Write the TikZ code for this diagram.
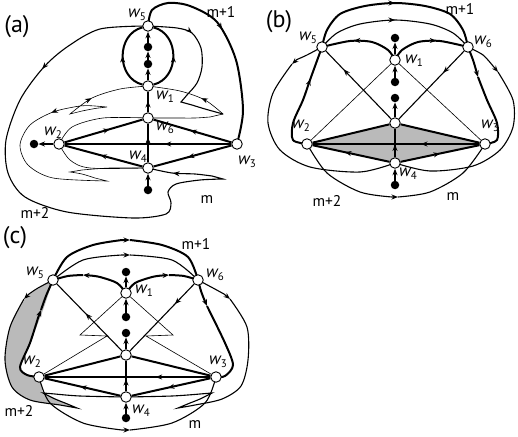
\documentclass[tikz,border=0pt]{standalone}
\usepackage{fontspec}
\setmainfont{PT Sans}
\usetikzlibrary{arrows.meta,decorations.markings}
\pgfdeclarelayer{bg}
\pgfsetlayers{bg,main}
\newcommand{\wl}[1]{{\fontsize{17}{17}\selectfont\itshape w}\kern0.2pt\raisebox{-0.6ex}{\fontsize{11}{11}\selectfont #1}}
\begin{document}
\begin{tikzpicture}[x=1pt,y=-1pt,
  >={Stealth[length=6.5pt,width=5pt]},
  wn/.style={circle,draw,fill=white,line width=0.9pt,inner sep=0pt,minimum size=10.5pt},
  bd/.style={circle,fill=black,inner sep=0pt,minimum size=8.5pt},
  thk/.style={line width=2pt},
  med/.style={line width=1.1pt},
  thn/.style={line width=0.6pt},
  ar/.style={postaction={decorate,decoration={markings,mark=at position #1 with {\arrow{>}}}}},
  ra/.style={postaction={decorate,decoration={markings,mark=at position #1 with {\arrowreversed{>}}}}},
  lab/.style={inner sep=0pt},
  big/.style={font=\fontsize{24}{24}\selectfont,inner sep=0pt},
  ml/.style={font=\fontsize{15.5}{15.5}\selectfont,inner sep=0pt},
  gfill/.style={fill=black!27},
  line join=round, line cap=round]
\useasboundingbox (0,0) rectangle (518,436);

% ---------------- (a) nodes
\node[wn] (a5) at (148,26) {};
\node[bd] (ad1) at (148,47) {};
\node[bd] (ad2) at (148,64) {};
\node[wn] (a1) at (148,86) {};
\node[wn] (a6) at (148,118) {};
\node[wn] (a2) at (59,144) {};
\node[bd] (adL) at (34,144) {};
\node[wn] (a3) at (237,144) {};
\node[wn] (a4) at (148,168) {};
\node[bd] (adB) at (148,190) {};

% ---------------- (b) nodes
\node[wn] (b5) at (322,47) {};
\node[wn] (b6) at (468,47) {};
\node[wn] (b1) at (395,60) {};
\node[bd] (bdT) at (395,38) {};
\node[bd] (bdM1) at (395,82) {};
\node[bd] (bdM2) at (395,98) {};
\node[wn] (bc) at (395,123) {};
\node[wn] (b2) at (307,144) {};
\node[wn] (b3) at (485,144) {};
\node[wn] (b4) at (395,163) {};
\node[bd] (bdB) at (395,185) {};

% ---------------- (c) nodes
\node[wn] (c5) at (53,280) {};
\node[wn] (c6) at (198,280) {};
\node[wn] (c1) at (126,293) {};
\node[bd] (cdT) at (126,272) {};
\node[bd] (cdM1) at (126,317) {};
\node[bd] (cdM2) at (126,333) {};
\node[wn] (cc) at (126,355) {};
\node[wn] (c2) at (39,377) {};
\node[wn] (c3) at (216,377) {};
\node[wn] (c4) at (126,397) {};
\node[bd] (cdB) at (126,418) {};

% ---------------- labels
\node[big] (ta) at (17,27) {(a)};
\node[big] (tb) at (279,22) {(b)};
\node[big] (tc) at (15,238) {(c)};

\node[lab] (la5) at (137,15) {\wl{5}};
\node[lab] (la1) at (165,97) {\wl{1}};
\node[lab] (la6) at (165,128) {\wl{6}};
\node[lab] (la2) at (53,133) {\wl{2}};
\node[lab] (la4) at (138,157) {\wl{4}};
\node[lab] (la3) at (247,162) {\wl{3}};
\node[ml] (ma1) at (221,12) {m+1};
\node[ml] (ma0) at (207,200) {m};
\node[ml] (ma2) at (35,213) {m+2};

\node[lab] (lb5) at (308,38) {\wl{5}};
\node[lab] (lb6) at (483,42) {\wl{6}};
\node[lab] (lb1) at (414,61) {\wl{1}};
\node[lab] (lb2) at (301,126) {\wl{2}};
\node[lab] (lb3) at (490,126) {\wl{3}};
\node[lab] (lb4) at (408,174) {\wl{4}};
\node[ml] (mb1) at (460,9) {m+1};
\node[ml] (mb2) at (327,201) {m+2};
\node[ml] (mb0) at (453,197) {m};

\node[lab] (lc5) at (35,273) {\wl{5}};
\node[lab] (lc6) at (215,275) {\wl{6}};
\node[lab] (lc1) at (144,291) {\wl{1}};
\node[lab] (lc2) at (32,362) {\wl{2}};
\node[lab] (lc3) at (218,362) {\wl{3}};
\node[lab] (lc4) at (141,411) {\wl{4}};
\node[ml] (mc1) at (196,244) {m+1};
\node[ml] (mc2) at (19,411) {m+2};
\node[ml] (mc0) at (195,425) {m};

\begin{pgfonlayer}{bg}
% ================= (a)
\draw[thk,ar=0.5] (a1) .. controls (116,78) and (116,34) .. (a5);
\draw[thk,ar=0.5] (a1) .. controls (180,78) and (180,34) .. (a5);
\draw[med,->] (a1) -- (ad2);
\draw[med,->] (ad2) -- (ad1);
\draw[med,->] (ad1) -- (a5);
\draw[thk,ar=0.55] (a6) -- (a1);
\draw[med,ar=0.65] (a4) -- (a6);
\draw[med,->] (adB) -- (a4);
\draw[med,->] (a2) -- (adL);
\draw[thk,ar=0.58] (a2) -- (a6);
\draw[thk,ar=0.53] (a3) -- (a6);
\draw[thk,ar=0.56] (a3) -- (a4);
\draw[thk,ar=0.54] (a4) -- (a2);
\draw[med,ar=0.4] (a3) -- (a2);
% m+1
\draw[thk,ar=0.45] plot[smooth] coordinates {(a5) (152,10) (168,3) (190,6) (217,22) (236,60) (243,110) (a3)};
% m+2 outer
\draw[med,ar=0.21,ar=0.955] plot[smooth] coordinates {(a5) (100,29) (67,47) (43,68) (20,100) (6,140) (8,173) (25,197) (67,212) (133,218) (166,214) (171,203) (168,192) (176,184) (200,180) (223,179)}
  -- plot[smooth] coordinates {(212,176) (195,174) (172,173) (a4)};
% left folded curve
\draw[thn,ra=0.13,ar=0.40] plot[smooth] coordinates {(a1) (120,89) (92,98) (70,114)}
  -- plot[smooth] coordinates {(82,111) (95,108.5) (107,107)}
  -- plot[smooth] coordinates {(95,106) (80,106) (53,112) (30,125) (20,145) (28,165) (53,178) (107,181)}
  -- plot[smooth] coordinates {(95,178) (82,174) (70,172)}
  -- plot[smooth] coordinates {(82,170) (110,168) (a4)};
% lens around w2
\draw[thn] plot[smooth] coordinates {(a6) (103,118) (72,127) (a2)};
\draw[thn] plot[smooth] coordinates {(a2) (70,160) (90,168) (a4)};
% right lens and cusp curve
\draw[thn,ra=0.35] plot[smooth] coordinates {(a1) (180,91) (205,100) (223,114)}
  -- plot[smooth] coordinates {(210,117) (195,118) (175,118) (a6)};
\draw[med,ar=0.27] plot[smooth] coordinates {(a5) (177,28) (192,33) (201,48) (202,67) (197,83) (187,95) (181,102)}
  -- plot[smooth] coordinates {(192,105) (205,109) (223,114)};

% ================= (b)
\fill[gfill] (b2.center) -- (bc.center) -- (b3.center) -- (b4.center) -- cycle;
\draw[thk] (b2) -- (bc);
\draw[thk] (bc) -- (b3);
\draw[thk,ar=0.58] (b4) -- (b2);
\draw[thk,ar=0.5] (b4) -- (b3);
\draw[med,ar=0.35] (b3) -- (b2);
\draw[med,ar=0.45] (b4) -- (bc);
\draw[med,->] (bdB) -- (b4);
\draw[thk,->] (bc) -- (bdM2);
\draw[thk,->] (bdM1) -- (b1);
\draw[med,->] (b1) -- (bdT);
\draw[thn] (b2) -- (b1);
\draw[thn] (b1) -- (b3);
\draw[med,ar=0.73] (bc) -- (b5);
\draw[med,ar=0.32] (b6) -- (bc);
\draw[thk,ar=0.6] plot[smooth] coordinates {(b1) (388,50) (372,42) (350,41) (b5)};
\draw[thk,ar=0.6] plot[smooth] coordinates {(b1) (402,50) (418,42) (440,41) (b6)};
\draw[med,ar=0.5] plot[smooth] coordinates {(b5) (337,33) (360,24) (395,20) (430,24) (453,33) (b6)};
\draw[thk,ar=0.5] plot[smooth] coordinates {(b5) (327,30) (340,14) (365,6) (395,3) (425,6) (450,14) (463,30) (b6)};
\draw[thk,ar=0.7] plot[smooth] coordinates {(b2) (293,140) (293,123) (303,100) (310,80) (b5)};
% w6 -> w3 (arrow split)
\draw[thk,->] plot[smooth] coordinates {(b6) (473,60) (476,70)} -- (478,77);
\draw[thk] plot[smooth] coordinates {(478,77) (487,100) (497,123) (497,140) (b3)};
% outer left / right
\draw[med,->] plot[smooth] coordinates {(b5) (307,55) (297,59.5)} -- (292,64);
\draw[med] plot[smooth] coordinates {(292,64) (273,93) (268,123) (280,150) (310,167) (360,172) (b4)};
\draw[med,->] plot[smooth] coordinates {(b6) (483,55) (493,66)} -- (498,72);
\draw[med] plot[smooth] coordinates {(498,72) (513,100) (513,127) (500,150) (473,166) (430,171) (b4)};
% bottom arc
\draw[med,->] plot[smooth] coordinates {(b2) (327,173) (360,192) (392,197)} -- (398,197);
\draw[med] plot[smooth] coordinates {(398,197) (430,192) (463,173) (b3)};

% ================= (c)
\fill[gfill] plot[smooth] coordinates {(c5) (27,297) (10,327) (5,360) (12,387) (30,400) (60,405) (77,408)}
  -- (43,393) -- (c2.center)
  -- plot[smooth] coordinates {(c2) (27,375) (20,367) (30,343) (43,310) (c5)} -- cycle;
\draw[med,->] plot[smooth] coordinates {(c5) (38,288) (29,294)} -- (24,299);
\draw[med] plot[smooth] coordinates {(24,299) (10,327) (5,360) (12,387) (30,400) (60,405) (77,408)}
  -- plot[smooth] coordinates {(65,403) (55,399) (43,393)}
  -- plot[smooth] coordinates {(55,394) (80,396) (c4)};
\draw[med,->] plot[smooth] coordinates {(c6) (213,288) (224,294)} -- (230,299);
\draw[med] plot[smooth] coordinates {(230,299) (247,327) (248,360) (241,386) (222,399) (195,405) (178,408)}
  -- plot[smooth] coordinates {(190,403) (200,399) (212,393)}
  -- plot[smooth] coordinates {(200,394) (172,396) (c4)};
\draw[thk,->] plot[smooth] coordinates {(c2) (27,375) (20,367) (30,343) (38,318)} -- (41,310);
\draw[thk] plot[smooth] coordinates {(41,310) (46,296) (c5)};
\draw[thk,->] plot[smooth] coordinates {(c6) (201,291) (204,299)} -- (207,306);
\draw[thk] plot[smooth] coordinates {(207,306) (225,343) (233,365) (225,376) (c3)};
\draw[med,->] plot[smooth] coordinates {(c5) (83,260) (122,255)} -- (130,255);
\draw[med] plot[smooth] coordinates {(130,255) (172,260) (c6)};
\draw[thk,->] plot[smooth] coordinates {(c5) (67,257) (93,245) (122,240)} -- (130,240);
\draw[thk] plot[smooth] coordinates {(130,240) (162,245) (188,257) (c6)};
\draw[thk,->] plot[smooth] coordinates {(c1) (117,283) (100,277) (90,275.5)} -- (83,275);
\draw[thk] plot[smooth] coordinates {(83,275) (68,276) (c5)};
\draw[thk,->] plot[smooth] coordinates {(c1) (135,283) (152,277) (162,275.5)} -- (169,275);
\draw[thk] plot[smooth] coordinates {(169,275) (184,276) (c6)};
\draw[thk] (c2) -- (cc);
\draw[thk] (cc) -- (c3);
\draw[thk,ar=0.53] (c4) -- (c2);
\draw[thk,ar=0.54] (c3) -- (c4);
\draw[med,ar=0.33] (c3) -- (c2);
\draw[med,ar=0.4] (c4) -- (cc);
\draw[med,->] (cdB) -- (c4);
\draw[thk,->] (cc) -- (cdM2);
\draw[thk,->] (cdM1) -- (c1);
\draw[med,->] (c1) -- (cdT);
\draw[med,ar=0.56] (cc) -- (c5);
\draw[med,ar=0.3] (c6) -- (cc);
\draw[thn] (c1) -- (80,335) -- (107,336) -- (c2);
\draw[thn] (c1) -- (173,335) -- (146,336) -- (c3);
\draw[med,->] plot[smooth] coordinates {(c2) (50,403) (83,423) (122,430)} -- (130,430);
\draw[med] plot[smooth] coordinates {(130,430) (172,423) (205,403) (c3)};
\end{pgfonlayer}
\end{tikzpicture}
\end{document}
